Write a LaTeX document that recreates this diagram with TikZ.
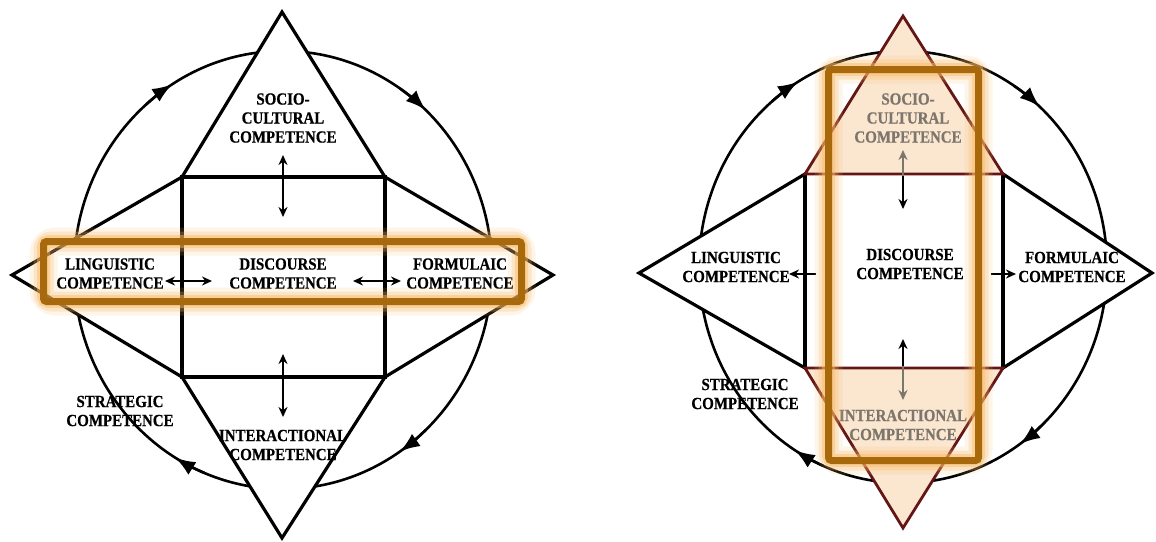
\documentclass[tikz,border=0pt]{standalone}
\usepackage{fontspec}
\setmainfont{Liberation Serif}
\newfontfamily\labfont{Liberation Serif}[FakeStretch=0.88, BoldFeatures={FakeBold=0.6}]
\usetikzlibrary{arrows.meta,calc}
\definecolor{bandc}{RGB}{168,104,12}
\definecolor{glowc}{RGB}{250,185,100}
\definecolor{peach}{RGB}{251,230,208}
\definecolor{dred}{RGB}{100,22,22}
\definecolor{greytxt}{RGB}{125,118,108}
\tikzset{
  lab/.style={font=\labfont\fontsize{17}{19}\selectfont\bfseries, align=center, inner sep=0pt},
  greylab/.style={lab, text=greytxt},
  starline/.style={line width=3.2pt, line join=miter},
  ring/.style={line width=2.6pt},
  ringarrow/.style={-{Latex[length=20pt,width=15pt]}, line width=2.6pt},
  dbl/.style={{Stealth[length=10pt,width=9pt]}-{Stealth[length=10pt,width=9pt]}, line width=2pt},
  sgl/.style={-{Stealth[length=10pt,width=9pt]}, line width=2pt},
  glow1/.style={line width=28pt, draw=glowc, opacity=0.14, rounded corners=12pt},
  glow2/.style={line width=20pt, draw=glowc, opacity=0.26, rounded corners=8pt},
  glow3/.style={line width=13pt, draw=glowc, opacity=0.45, rounded corners=5pt},
  bandline/.style={line width=7pt, draw=bandc, rounded corners=3pt},
}
\begin{document}
\begin{tikzpicture}[x=1pt,y=-1pt]
\useasboundingbox[fill=white] (0,0) rectangle (1156,541);

% ================= LEFT DIAGRAM =================
\coordinate (cL) at (283,270);
\draw[ring] (cL) ellipse[x radius=209, y radius=219];
\foreach \a in {124,49,306,241}{
  \draw[ringarrow] ($(cL)+(-\a-7:209 and 219)$) arc[start angle=-\a-7, end angle=-\a+2, x radius=209, y radius=219];
}
\coordinate (LT) at (282,12);
\coordinate (LTL) at (182,177);
\coordinate (LL) at (12,275);
\coordinate (LBL) at (182,377);
\coordinate (LB) at (282,538);
\coordinate (LBR) at (385,377);
\coordinate (LR) at (553,275);
\coordinate (LTR) at (385,177);
\draw[starline, fill=white] (LT) -- (LTR) -- (LR) -- (LBR) -- (LB) -- (LBL) -- (LL) -- (LTL) -- cycle;
\draw[starline] (LTL) rectangle (LBR);

\node[lab] (socL) at (283,118) {SOCIO-\\CULTURAL\\COMPETENCE};
\node[lab] (discL) at (283,273.5) {DISCOURSE\\COMPETENCE};
\node[lab] (lingL) at (110,273.5) {LINGUISTIC\\COMPETENCE};
\node[lab] (formL) at (460,273.5) {FORMULAIC\\COMPETENCE};
\node[lab] (stratL) at (120,411) {STRATEGIC\\COMPETENCE};
\node[lab] (interL) at (283,445) {INTERACTIONAL\\COMPETENCE};

\coordinate (la1) at (283,155); \coordinate (la2) at (283,217);
\coordinate (lb1) at (283,354); \coordinate (lb2) at (283,417);
\coordinate (lc1) at (165,281); \coordinate (lc2) at (212,281);
\coordinate (ld1) at (353,281); \coordinate (ld2) at (401,281);
\draw[dbl] (la1) -- (la2);
\draw[dbl] (lb1) -- (lb2);
\draw[dbl] (lc1) -- (lc2);
\draw[dbl] (ld1) -- (ld2);

\coordinate (bandLa) at (43.5,241.5);
\coordinate (bandLb) at (521.5,301.5);
\draw[glow1] (bandLa) rectangle (bandLb);
\draw[glow2] (bandLa) rectangle (bandLb);
\draw[glow3] (bandLa) rectangle (bandLb);
\draw[bandline] (bandLa) rectangle (bandLb);

% ================= RIGHT DIAGRAM =================
\coordinate (cR) at (903,267);
\draw[ring] (cR) ellipse[x radius=204, y radius=216];
\foreach \a in {123,50,307,240}{
  \draw[ringarrow] ($(cR)+(-\a-7:204 and 216)$) arc[start angle=-\a-7, end angle=-\a+2, x radius=204, y radius=216];
}
\coordinate (RT) at (903,16);
\coordinate (RTL) at (805,174);
\coordinate (RL) at (639,273);
\coordinate (RBL) at (805,368);
\coordinate (RB) at (903,528);
\coordinate (RBR) at (1003,368);
\coordinate (RR) at (1152,273);
\coordinate (RTR) at (1003,174);
\draw[starline, fill=white] (RTL) -- (RL) -- (RBL) -- cycle;
\draw[starline, fill=white] (RTR) -- (RR) -- (RBR) -- cycle;
\fill[white] (RTL) rectangle (RBR);
\draw[starline] (RTL) -- (RBL);
\draw[starline] (RTR) -- (RBR);
\draw[line width=2.8pt, draw=dred, fill=peach, line join=miter] (RT) -- (RTR) -- (RTL) -- cycle;
\draw[line width=2.8pt, draw=dred, fill=peach, line join=miter] (RB) -- (RBR) -- (RBL) -- cycle;

\node[greylab] (socR) at (908,118) {SOCIO-\\CULTURAL\\COMPETENCE};
\node[lab] (discR) at (910,264) {DISCOURSE\\COMPETENCE};
\node[lab] (lingR) at (736,267) {LINGUISTIC\\COMPETENCE};
\node[lab] (formR) at (1072,267) {FORMULAIC\\COMPETENCE};
\node[lab] (stratR) at (745,394) {STRATEGIC\\COMPETENCE};
\node[greylab] (interR) at (903,425) {INTERACTIONAL\\COMPETENCE};

\coordinate (ra0) at (903,176); \coordinate (ra1) at (903,150); \coordinate (ra2) at (903,209);
\coordinate (rb0) at (903,366); \coordinate (rb1) at (903,339); \coordinate (rb2) at (903,400);
\coordinate (rc1) at (816,274); \coordinate (rc2) at (789,274);
\coordinate (rd1) at (991,274); \coordinate (rd2) at (1016,274);
\draw[sgl, greytxt] (ra0) -- (ra1);
\draw[sgl] (ra0) -- (ra2);
\draw[sgl] (rb0) -- (rb1);
\draw[sgl, greytxt] (rb0) -- (rb2);
\draw[sgl] (rc1) -- (rc2);
\draw[sgl] (rd1) -- (rd2);

\coordinate (bandRa) at (828.5,69.5);
\coordinate (bandRb) at (978.5,460.5);
\draw[glow1] (bandRa) rectangle (bandRb);
\draw[glow2] (bandRa) rectangle (bandRb);
\draw[glow3] (bandRa) rectangle (bandRb);
\draw[bandline] (bandRa) rectangle (bandRb);
\end{tikzpicture}
\end{document}
